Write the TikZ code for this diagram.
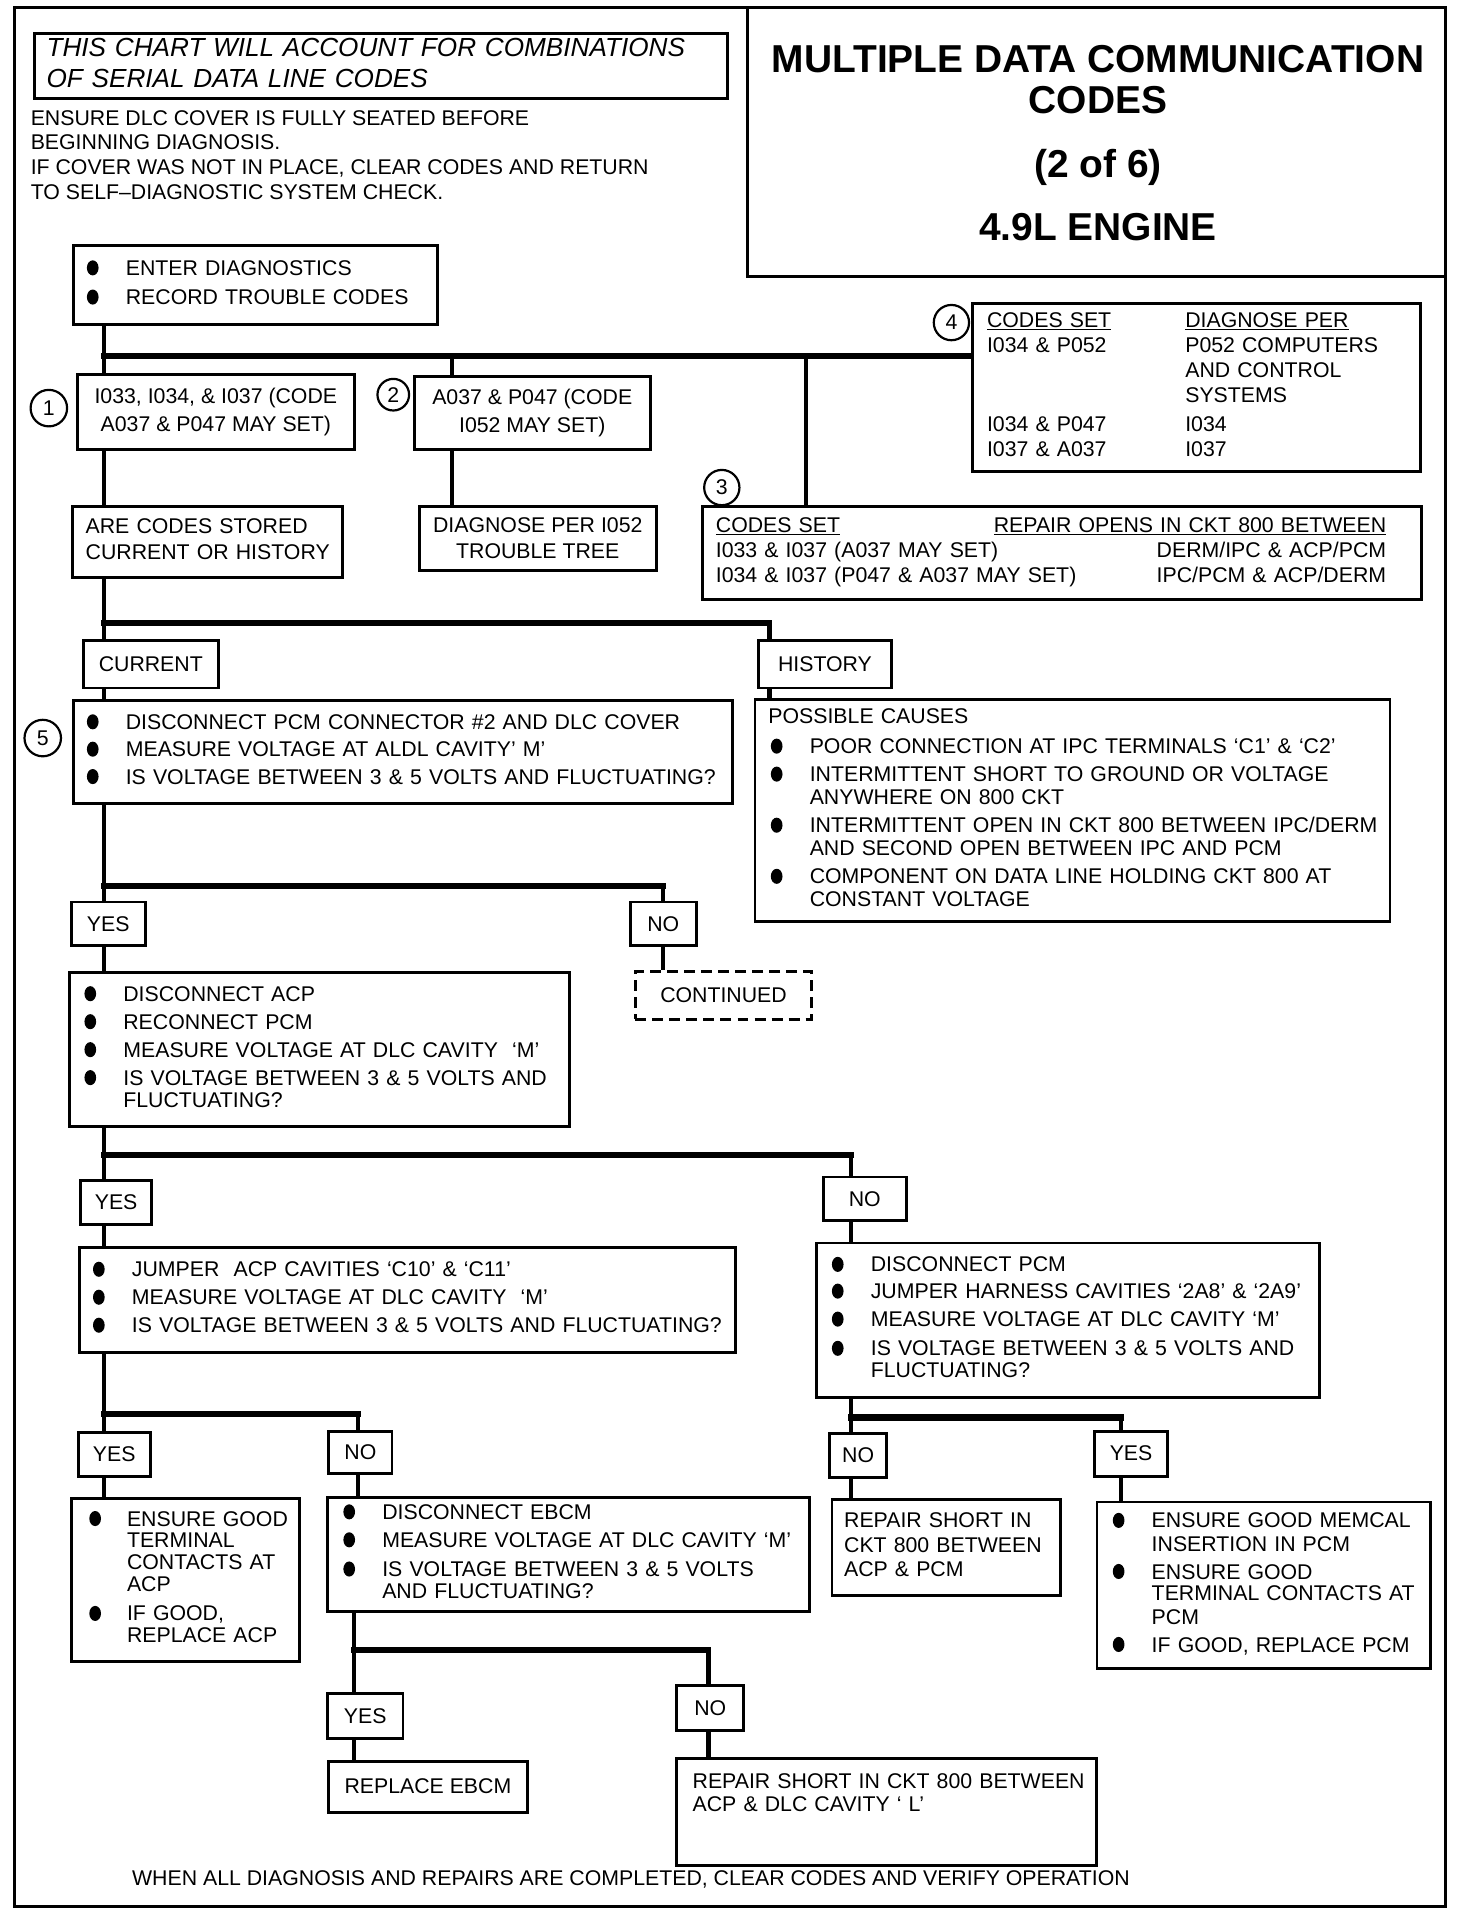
\documentclass[tikz,border=0pt]{standalone}
\usepackage{fontspec}
\setmainfont{Liberation Sans}
\newcommand{\bodyf}{\fontsize{17.5}{19}\selectfont}
\newsavebox\bulbox
\newcommand{\bu}{\makebox[27pt][l]{\kern-5pt\usebox\bulbox}}
\newcommand{\ind}{\hspace*{27pt}}
\newcommand{\bp}{\hspace*{7pt}\makebox[27pt][l]{\kern-5pt\usebox\bulbox}}
\newcommand{\ip}{\hspace*{34pt}}
\newcommand{\tb}[2][-2pt]{\raisebox{#1}{\begin{tabular}{@{}l@{}}#2\end{tabular}}}
\begin{document}
\sbox\bulbox{\begin{pgfpicture}\pgfpathellipse{\pgfpoint{4.8pt}{6.2pt}}{\pgfpoint{4.8pt}{0pt}}{\pgfpoint{0pt}{6.2pt}}\pgfusepath{fill}\end{pgfpicture}}%
\begin{tikzpicture}[x=1.004pt,y=-1.0045pt,
  box/.style={draw, line width=2.4pt, anchor=north west, inner ysep=0pt, align=left, font=\bodyf, execute at begin node=\noindent},
  cbox/.style={draw, line width=2.4pt, anchor=north west, inner sep=0pt, align=center, font=\bodyf},
  vl/.style={line width=3.6pt},
  bar/.style={line width=5pt, line cap=rect},
  num/.style={circle, draw, line width=1.8pt, minimum size=29pt, inner sep=0pt, font=\bodyf},
  ttl/.style={font=\fontsize{32}{34}\selectfont\bfseries, align=center, inner sep=0pt},
  txt/.style={inner sep=0pt, align=left, font=\bodyf}]
\useasboundingbox (0,0) rectangle (1205.2,1568);
\fill[white] (0,0) rectangle (1205.2,1568);
% frame
\draw[line width=2.4pt] (12,6) rectangle (1183.3,1560);
\coordinate (tl) at (612,6);
\coordinate (tb) at (612,226);
\coordinate (tr) at (1183.3,226);
\draw[line width=2.4pt] (tl) -- (tb) -- (tr);
% title
\node[ttl] (title) at (899,65) {MULTIPLE DATA COMMUNICATION\\CODES};
\node[ttl] (title2) at (899,137) {(2 of 6)};
\node[ttl] (title3) at (899,186) {4.9L ENGINE};
% italic note
\node[box, font=\fontsize{21.5}{25}\selectfont\itshape, minimum width=570pt, minimum height=54pt, inner xsep=10pt, text width=550pt] (note) at (27,26)
 {\tb[-1pt]{THIS CHART WILL ACCOUNT FOR COMBINATIONS\\OF SERIAL DATA LINE CODES}};
\node[txt, anchor=north west, font=\fontsize{17.5}{20.3}\selectfont] (intro) at (25,90)
 {ENSURE DLC COVER IS FULLY SEATED BEFORE\\BEGINNING DIAGNOSIS.\\IF COVER WAS NOT IN PLACE, CLEAR CODES AND RETURN\\TO SELF--DIAGNOSTIC SYSTEM CHECK.};
% boxes
\node[box, minimum width=299pt, minimum height=65pt, inner xsep=16pt, text width=267pt] (enter) at (59,200)
 {\tb{\bu ENTER DIAGNOSTICS\\[5pt]\bu RECORD TROUBLE CODES}};
\node[cbox, minimum width=228pt, minimum height=62pt] (b1) at (62,305)
 {I033, I034, \& I037 (CODE\\[4pt]A037 \& P047 MAY SET)};
\node[cbox, minimum width=194pt, minimum height=60pt] (b2) at (338,307)
 {A037 \& P047 (CODE\\[4pt]I052 MAY SET)};
\node[box, minimum width=368pt, minimum height=138pt, inner xsep=12pt, text width=344pt] (b4) at (795,247)
 {\raisebox{-2pt}{\begin{tabular}{@{}p{163pt}@{}l@{}}
 \underline{CODES SET} & \underline{DIAGNOSE PER}\\[1.5pt]
 I034 \& P052 & P052 COMPUTERS\\[1.5pt]
  & AND CONTROL\\[1.5pt]
  & SYSTEMS\\[5pt]
 I034 \& P047 & I034\\[1.5pt]
 I037 \& A037 & I037
 \end{tabular}}};
\node[box, minimum width=591pt, minimum height=77pt, inner xsep=11pt, text width=569pt] (b3) at (574,413)
 {\tb{\makebox[551pt]{\underline{CODES SET}\hfill\underline{REPAIR OPENS IN CKT 800 BETWEEN}}\\[1.5pt]
 \makebox[551pt]{I033 \& I037 (A037 MAY SET)\hfill DERM/IPC \& ACP/PCM}\\[1.5pt]
 \makebox[551pt]{I034 \& I037 (P047 \& A037 MAY SET)\hfill IPC/PCM \& ACP/DERM}}};
\node[box, minimum width=222pt, minimum height=59pt, inner xsep=11pt, text width=200pt] (are) at (58,413)
 {\tb{ARE CODES STORED\\[2pt]CURRENT OR HISTORY}};
\node[cbox, minimum width=195pt, minimum height=53pt] (diag) at (342,413)
 {DIAGNOSE PER I052\\[2pt]TROUBLE TREE};
\node[cbox, minimum width=111pt, minimum height=39pt] (cur) at (67,523) {CURRENT};
\node[cbox, minimum width=109pt, minimum height=39pt] (his) at (620,523) {HISTORY};
\node[box, minimum width=542pt, minimum height=85pt, inner xsep=16pt, text width=510pt] (b5) at (59,572)
 {\tb{\bu DISCONNECT PCM CONNECTOR \#2 AND DLC COVER\\[3.5pt]
 \bu MEASURE VOLTAGE AT ALDL CAVITY’ M’\\[3.5pt]
 \bu IS VOLTAGE BETWEEN 3 \& 5 VOLTS AND FLUCTUATING?}};
\node[box, minimum width=522pt, minimum height=183pt, inner xsep=11pt, text width=500pt] (poss) at (617,571)
 {\tb[-5pt]{POSSIBLE CAUSES\\[6pt]
 \bp POOR CONNECTION AT IPC TERMINALS ‘C1’ \& ‘C2’\\[4pt]
 \bp INTERMITTENT SHORT TO GROUND OR VOLTAGE\\
 \ip ANYWHERE ON 800 CKT\\[4pt]
 \bp INTERMITTENT OPEN IN CKT 800 BETWEEN IPC/DERM\\
 \ip AND SECOND OPEN BETWEEN IPC AND PCM\\[4pt]
 \bp COMPONENT ON DATA LINE HOLDING CKT 800 AT\\
 \ip CONSTANT VOLTAGE}};
\node[cbox, minimum width=61pt, minimum height=36pt] (yes1) at (57,737) {YES};
\node[cbox, minimum width=54pt, minimum height=36pt] (no1) at (515,737) {NO};
\node[cbox, dash pattern=on 9pt off 5pt, minimum width=145pt, minimum height=39pt] (cont) at (519,794) {CONTINUED};
\node[box, minimum width=411pt, minimum height=126pt, inner xsep=17pt, text width=377pt] (b6) at (56,795)
 {\tb{\bu DISCONNECT ACP\\[4pt]
 \bu RECONNECT PCM\\[4pt]
 \bu MEASURE VOLTAGE AT DLC CAVITY\ \ ‘M’\\[4pt]
 \bu IS VOLTAGE BETWEEN 3 \& 5 VOLTS AND\\[-1pt]
 \ind FLUCTUATING?}};
\node[cbox, minimum width=58pt, minimum height=36pt] (yes2) at (65,965) {YES};
\node[cbox, minimum width=68pt, minimum height=36pt] (no2) at (673,962) {NO};
\node[box, minimum width=539pt, minimum height=86pt, inner xsep=16pt, text width=507pt] (b7) at (64,1020)
 {\tb{\bu JUMPER\ \ ACP CAVITIES ‘C10’ \& ‘C11’\\[4pt]
 \bu MEASURE VOLTAGE AT DLC CAVITY\ \ ‘M’\\[4pt]
 \bu IS VOLTAGE BETWEEN 3 \& 5 VOLTS AND FLUCTUATING?}};
\node[box, minimum width=414pt, minimum height=127pt, inner xsep=18pt, text width=378pt] (b8) at (667,1016)
 {\tb{\bu DISCONNECT PCM\\[3pt]
 \bu JUMPER HARNESS CAVITIES ‘2A8’ \& ‘2A9’\\[4pt]
 \bu MEASURE VOLTAGE AT DLC CAVITY ‘M’\\[5pt]
 \bu IS VOLTAGE BETWEEN 3 \& 5 VOLTS AND\\[-1pt]
 \ind FLUCTUATING?}};
\node[cbox, minimum width=59pt, minimum height=36pt] (yes3) at (63,1171) {YES};
\node[cbox, minimum width=52pt, minimum height=35pt] (no3) at (268,1170) {NO};
\node[cbox, minimum width=47pt, minimum height=36pt] (no4) at (678,1172) {NO};
\node[cbox, minimum width=60pt, minimum height=37pt] (yes4) at (895,1170) {YES};
\node[box, minimum width=188pt, minimum height=134pt, inner xsep=20pt, text width=148pt] (b9) at (57,1225)
 {\tb{\makebox[26pt][l]{\kern-5pt\usebox\bulbox}ENSURE GOOD\\[-1pt]
 \hspace*{26pt}TERMINAL\\[-1pt]
 \hspace*{26pt}CONTACTS AT\\[-1pt]
 \hspace*{26pt}ACP\\[5pt]
 \makebox[26pt][l]{\kern-5pt\usebox\bulbox}IF GOOD,\\[-1pt]
 \hspace*{26pt}REPLACE ACP}};
\node[box, minimum width=396pt, minimum height=94pt, inner xsep=18pt, text width=360pt] (b10) at (267,1224)
 {\tb{\bu DISCONNECT EBCM\\[4pt]
 \bu MEASURE VOLTAGE AT DLC CAVITY ‘M’\\[5pt]
 \bu IS VOLTAGE BETWEEN 3 \& 5 VOLTS\\[-1pt]
 \ind AND FLUCTUATING?}};
\node[box, minimum width=188pt, minimum height=79pt, inner xsep=10pt, text width=168pt] (b11) at (680,1226)
 {\tb{REPAIR SHORT IN\\[1pt]CKT 800 BETWEEN\\[1pt]ACP \& PCM}};
\node[box, minimum width=274pt, minimum height=137pt, inner xsep=18pt, text width=238pt] (b12) at (897,1228)
 {\tb{\bu ENSURE GOOD MEMCAL\\
 \ind INSERTION IN PCM\\[4pt]
 \bu ENSURE GOOD\\[-1pt]
 \ind TERMINAL CONTACTS AT\\
 \ind PCM\\[4pt]
 \bu IF GOOD, REPLACE PCM}};
\node[cbox, minimum width=62pt, minimum height=37pt] (yes5) at (267,1385) {YES};
\node[cbox, minimum width=55pt, minimum height=37pt] (no5) at (553,1378) {NO};
\node[cbox, minimum width=163pt, minimum height=42pt] (repl) at (268,1440) {REPLACE EBCM};
\node[box, minimum width=345pt, minimum height=88pt, inner xsep=13pt, text width=319pt] (b14) at (553,1438)
 {\raisebox{9.5pt}[0pt][0pt]{\begin{tabular}{@{}l@{}}REPAIR SHORT IN CKT 800 BETWEEN\\ACP \& DLC CAVITY ‘ L’\end{tabular}}};
\node[txt, anchor=west] (foot) at (108,1538) {WHEN ALL DIAGNOSIS AND REPAIRS ARE COMPLETED, CLEAR CODES AND VERIFY OPERATION};
% numbers
\node[num, minimum size=30pt] (n1) at (40,334) {1};
\node[num, minimum size=26pt] (n2) at (322,323) {2};
\node[num] (n3) at (591,399) {3};
\node[num] (n4) at (779,264) {4};
\node[num, minimum size=30pt] (n5) at (35,604) {5};
% connector coordinates
\coordinate (xA) at (85,0);
\coordinate (xB) at (370,0);
\coordinate (xC) at (660,0);
\coordinate (xH) at (630,0);
\coordinate (xN1) at (543,0);
\coordinate (xN2) at (697,0);
\coordinate (xN3) at (293,0);
\coordinate (xY4) at (918,0);
\coordinate (xE) at (290,0);
\coordinate (xN5) at (580,0);
\coordinate (y1) at (0,291);
\coordinate (y2) at (0,510);
\coordinate (y3) at (0,725);
\coordinate (y4) at (0,945);
\coordinate (y5) at (0,1157);
\coordinate (y6) at (0,1160);
\coordinate (y7) at (0,1350);
% top branch
\draw[vl] (enter.south -| xA) -- (b1.north -| xA);
\draw[bar] (xA |- y1) -- (b4.west |- y1);
\draw[vl] (xB |- y1) -- (b2.north -| xB);
\draw[vl] (xC |- y1) -- (b3.north -| xC);
\draw[vl] (b1.south -| xA) -- (are.north -| xA);
\draw[vl] (b2.south -| xB) -- (diag.north -| xB);
% current / history
\draw[vl] (are.south -| xA) -- (cur.north -| xA);
\draw[bar] (xA |- y2) -- (xH |- y2);
\draw[vl] (xH |- y2) -- (his.north -| xH);
\draw[vl] (cur.south -| xA) -- (b5.north -| xA);
\draw[vl] (his.south -| xH) -- (poss.north -| xH);
% box5 branch
\draw[vl] (b5.south -| xA) -- (yes1.north -| xA);
\draw[bar] (xA |- y3) -- (xN1 |- y3);
\draw[vl] (xN1 |- y3) -- (no1.north -| xN1);
\draw[vl] (no1.south -| xN1) -- (cont.north -| xN1);
\draw[vl] (yes1.south -| xA) -- (b6.north -| xA);
% box6 branch
\draw[vl] (b6.south -| xA) -- (yes2.north -| xA);
\draw[bar] (xA |- y4) -- (xN2 |- y4);
\draw[vl] (xN2 |- y4) -- (no2.north -| xN2);
\draw[vl] (yes2.south -| xA) -- (b7.north -| xA);
\draw[vl] (no2.south -| xN2) -- (b8.north -| xN2);
% box7 branch
\draw[vl] (b7.south -| xA) -- (yes3.north -| xA);
\draw[bar] (xA |- y5) -- (xN3 |- y5);
\draw[vl] (xN3 |- y5) -- (no3.north -| xN3);
\draw[vl] (yes3.south -| xA) -- (b9.north -| xA);
\draw[vl] (no3.south -| xN3) -- (b10.north -| xN3);
% box8 branch
\draw[vl] (b8.south -| xN2) -- (no4.north -| xN2);
\draw[bar] (xN2 |- y6) -- (xY4 |- y6);
\draw[vl] (xY4 |- y6) -- (yes4.north -| xY4);
\draw[vl] (no4.south -| xN2) -- (b11.north -| xN2);
\draw[vl] (yes4.south -| xY4) -- (b12.north -| xY4);
% box10 branch
\draw[vl] (b10.south -| xE) -- (yes5.north -| xE);
\draw[bar] (xE |- y7) -- (xN5 |- y7);
\draw[vl] (xN5 |- y7) -- (no5.north -| xN5);
\draw[vl] (yes5.south -| xE) -- (repl.north -| xE);
\draw[vl] (no5.south -| xN5) -- (b14.north -| xN5);
\end{tikzpicture}
\end{document}
